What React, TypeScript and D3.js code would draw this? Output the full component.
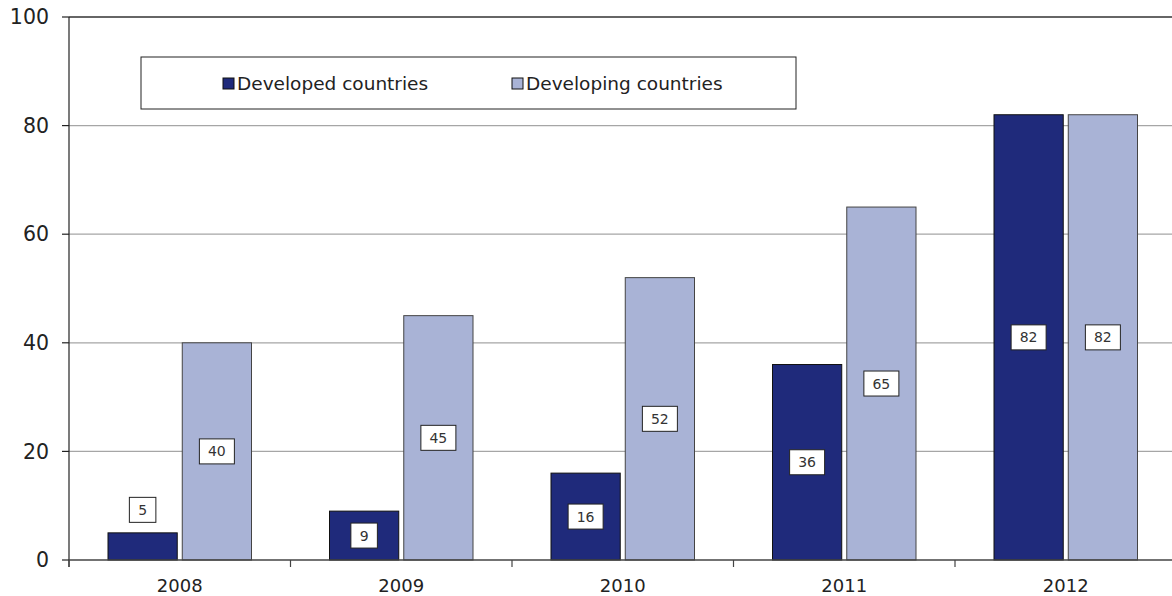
import React from "react";
import * as d3 from "d3";

const years = ["2008", "2009", "2010", "2011", "2012"];
const seriesNames = ["Developed countries", "Developing countries"];
const developed = [5, 9, 16, 36, 82];
const developing = [40, 45, 52, 65, 82];
const yTicks = [0, 20, 40, 60, 80, 100];

const colors = ["#1f2a7b", "#a9b3d6"];
const FONT = "'DejaVu Sans', Verdana, sans-serif";

export default function App() {
  const W = 1172;
  const H = 596;
  const left = 69;
  const right = 1176.5;
  const top = 17;
  const bottom = 560;

  const x = d3.scaleBand<string>().domain(years).range([left, right]).padding(0);
  const inner = d3
    .scaleBand<string>()
    .domain(seriesNames)
    .range([39, x.bandwidth() - 39])
    .paddingInner(5 / 74);
  const y = d3.scaleLinear().domain([0, 100]).range([bottom, top]);

  const values = [developed, developing];

  const boundaries = years.map((yr) => x(yr) as number).concat([right]);

  return (
    <svg
      width={W}
      height={H}
      style={{ position: "absolute", left: 0, top: 0, background: "#fff" }}
      fontFamily={FONT}
    >
      {/* gridlines */}
      {yTicks
        .filter((t) => t > 0 && t < 100)
        .map((t) => (
          <line key={t} x1={left} x2={W} y1={y(t)} y2={y(t)} stroke="#a6a6a6" strokeWidth={1.2} />
        ))}
      <line x1={left} x2={W} y1={y(100)} y2={y(100)} stroke="#333" strokeWidth={1.3} />

      {/* bars */}
      {values.map((vals, si) =>
        years.map((yr, i) => {
          const bx = (x(yr) as number) + (inner(seriesNames[si]) as number);
          return (
            <rect
              key={`${si}-${yr}`}
              x={bx}
              y={y(vals[i])}
              width={inner.bandwidth()}
              height={y(0) - y(vals[i])}
              fill={colors[si]}
              stroke={si === 0 ? "#111" : "#444"}
              strokeWidth={1}
            />
          );
        })
      )}

      {/* axes */}
      <line x1={left} x2={left} y1={top} y2={bottom + 7} stroke="#222" strokeWidth={1.2} />
      <line x1={left} x2={W} y1={bottom} y2={bottom} stroke="#444" strokeWidth={1.5} />
      {yTicks.map((t) => (
        <g key={t}>
          <line x1={left - 7} x2={left} y1={y(t)} y2={y(t)} stroke="#222" strokeWidth={1.2} />
          <text
            x={49}
            y={y(t)}
            dy="0.35em"
            textAnchor="end"
            fontSize={20.5}
            fill="#222"
          >
            {t}
          </text>
        </g>
      ))}
      {boundaries.map((b, i) => (
        <line key={i} x1={b} x2={b} y1={bottom} y2={bottom + 7} stroke="#444" strokeWidth={1.2} />
      ))}
      {years.map((yr) => (
        <text
          key={yr}
          x={(x(yr) as number) + x.bandwidth() / 2}
          y={592}
          textAnchor="middle"
          fontSize={18}
          fill="#222"
        >
          {yr}
        </text>
      ))}

      {/* value labels */}
      {values.map((vals, si) =>
        years.map((yr, i) => {
          const cx = (x(yr) as number) + (inner(seriesNames[si]) as number) + inner.bandwidth() / 2;
          const barH = y(0) - y(vals[i]);
          const cy = barH < 30 ? y(vals[i]) - 23 : y(vals[i] / 2);
          const label = String(vals[i]);
          const w = label.length * 8.5 + 18;
          const h = 25;
          return (
            <g key={`l-${si}-${yr}`}>
              <rect
                x={cx - w / 2}
                y={cy - h / 2}
                width={w}
                height={h}
                fill="#fff"
                stroke="#222"
                strokeWidth={1}
              />
              <text x={cx} y={cy} dy="0.36em" textAnchor="middle" fontSize={14} fill="#333">
                {label}
              </text>
            </g>
          );
        })
      )}

      {/* legend */}
      <rect x={141} y={57} width={655} height={52} fill="#fff" stroke="#222" strokeWidth={1} />
      {[223, 512].map((lx, si) => (
        <g key={si}>
          <rect x={lx} y={78} width={11} height={11} fill={colors[si]} stroke="#111" strokeWidth={1} />
          <text x={lx + 14} y={90} fontSize={18.5} fill="#222">
            {seriesNames[si]}
          </text>
        </g>
      ))}
    </svg>
  );
}
